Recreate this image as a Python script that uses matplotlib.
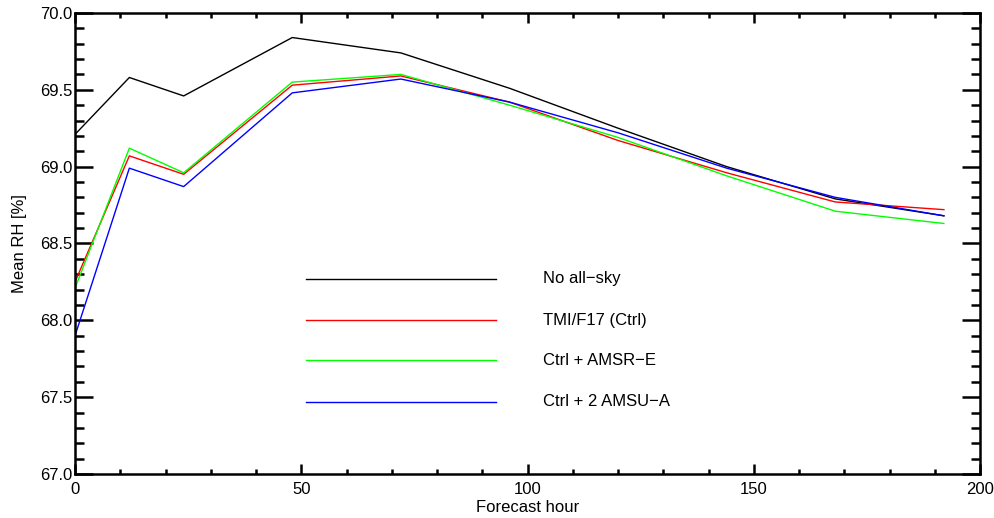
import matplotlib.pyplot as plt
from matplotlib.ticker import MultipleLocator, FormatStrFormatter

plt.rcParams['font.family'] = ['Liberation Sans', 'DejaVu Sans']
plt.rcParams['axes.unicode_minus'] = True

# forecast hours and mean RH for each experiment
hours = [0, 12, 24, 48, 72, 96, 120, 144, 168, 192]
no_allsky = [69.21, 69.58, 69.46, 69.84, 69.74, 69.51, 69.25, 69.00, 68.79, 68.68]
tmi_ctrl = [68.25, 69.07, 68.95, 69.53, 69.59, 69.42, 69.17, 68.96, 68.77, 68.72]
ctrl_amsre = [68.21, 69.12, 68.96, 69.55, 69.60, 69.40, 69.19, 68.94, 68.71, 68.63]
ctrl_amsua = [67.90, 68.99, 68.87, 69.48, 69.57, 69.42, 69.22, 68.99, 68.80, 68.68]

names = ["No all\u2212sky", "TMI/F17 (Ctrl)", "Ctrl + AMSR\u2212E", "Ctrl + 2 AMSU\u2212A"]
series = [no_allsky, tmi_ctrl, ctrl_amsre, ctrl_amsua]
colors = ["black", "#ff0000", "#00ff00", "#0000ff"]

fig = plt.figure(figsize=(9.94, 5.18), dpi=100)
ax = fig.add_axes([0.0755, 0.085, 0.9105, 0.89])

for vals, c in zip(series, colors):
    ax.plot(hours, vals, color=c, lw=1.0)

# legend drawn IDL-style: long line samples with labels to the right
leg_y = [68.27, 68.00, 67.74, 67.47]
for yy, name, c in zip(leg_y, names, colors):
    ax.plot([51, 93], [yy, yy], color=c, lw=1.0)
    ax.text(103.5, yy, name, fontsize=12, va='center', ha='left')

ax.set_xlim(0, 200)
ax.set_ylim(67.0, 70.0)
ax.xaxis.set_major_locator(MultipleLocator(50))
ax.xaxis.set_minor_locator(MultipleLocator(10))
ax.yaxis.set_major_locator(MultipleLocator(0.5))
ax.yaxis.set_minor_locator(MultipleLocator(0.1))
ax.yaxis.set_major_formatter(FormatStrFormatter('%.1f'))

ax.tick_params(axis='both', which='both', direction='in', top=True, right=True,
               labelsize=12, width=1.8, colors='black')
ax.tick_params(axis='y', which='major', length=13, pad=2)
ax.tick_params(axis='y', which='minor', length=6.5)
ax.tick_params(axis='x', which='major', length=7, pad=6)
ax.tick_params(axis='x', which='minor', length=3.5)
for s in ax.spines.values():
    s.set_linewidth(1.8)

ax.set_xlabel("Forecast hour", fontsize=12, labelpad=2)
ax.set_ylabel("Mean RH [%]", fontsize=12, labelpad=9)

fig.savefig("out.png", dpi=100)
